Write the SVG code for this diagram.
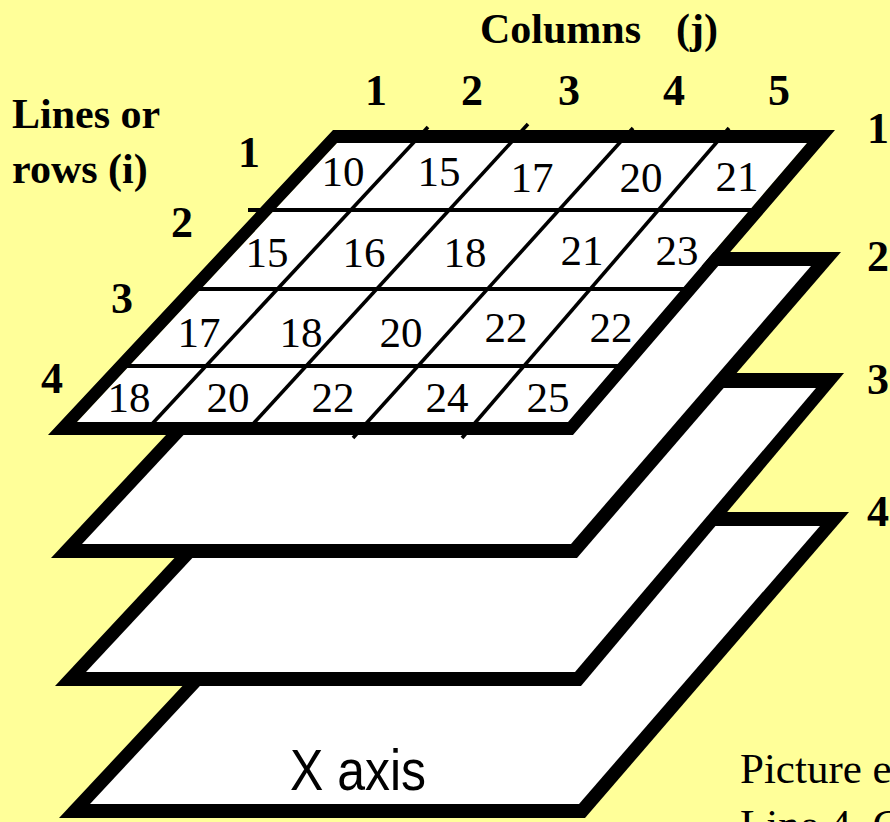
<svg xmlns="http://www.w3.org/2000/svg" width="890" height="822" viewBox="0 0 890 822">
<style>
.bg{fill:#FFFF99}
.outer{fill:#000}
.inner{fill:#fff}
.border{fill:#000;fill-rule:evenodd}
.grid line{stroke:#000;stroke-width:3.6;stroke-linecap:butt}
.hl{stroke-width:4.2 !important}
.num{font-family:"Liberation Serif","Times New Roman",serif;font-size:43px;fill:#000;text-anchor:middle}
.lbl{font-family:"Liberation Serif","Times New Roman",serif;font-weight:bold;font-size:42px;fill:#000}
.dig{font-family:"Liberation Serif","Times New Roman",serif;font-weight:bold;font-size:44px;fill:#000;text-anchor:middle}
.rdig{font-family:"Liberation Serif","Times New Roman",serif;font-weight:bold;font-size:44px;fill:#000}
.axis{font-family:"Liberation Sans",Arial,sans-serif;font-size:58px;fill:#000}
.note{font-family:"Liberation Serif","Times New Roman",serif;font-size:43px;fill:#000}
</style>
<rect class="bg" x="0" y="0" width="890" height="822"/>

<g id="layer4">
  <polygon class="outer" points="345,512 849,512 585,818 59,818"/>
  <polygon class="inner" points="349,526 820,526 579,804 90,804"/>
  <text class="axis" x="290" y="790" textLength="136" lengthAdjust="spacingAndGlyphs">X axis</text>
</g>
<g id="layer3">
  <polygon class="outer" points="347,373 844,373 581,686 55,686"/>
  <polygon class="inner" points="351,388 816,388 575,672 86,672"/>
</g>
<g id="layer2">
  <polygon class="outer" points="337,252 841,252 577,558 51,558"/>
  <polygon class="inner" points="341,266 811,266 571,544 82,544"/>
</g>
<g id="layer1">
  <polygon class="inner" points="337,143 807,143 568,422 77,422"/>
  <g class="grid" id="grid-lines">
    <line class="hl" x1="248" y1="210" x2="758" y2="210"/>
    <line class="hl" x1="192" y1="289" x2="690" y2="289"/>
    <line class="hl" x1="120" y1="366" x2="624" y2="366"/>
    <line x1="428" y1="127" x2="152" y2="424"/>
    <line x1="528" y1="124" x2="253" y2="424"/>
    <line x1="633" y1="128" x2="353" y2="438"/>
    <line x1="729" y1="128" x2="462" y2="438"/>
  </g>
  <path class="border" d="M333,130 L835,130 L573,435 L48,435 Z M337,143 L77,422 L568,422 L807,143 Z"/>
  <g id="cells">
    <text class="num" x="343" y="186">10</text>
    <text class="num" x="439" y="186">15</text>
    <text class="num" x="532" y="192">17</text>
    <text class="num" x="641" y="192">20</text>
    <text class="num" x="737" y="191">21</text>
    <text class="num" x="267" y="267">15</text>
    <text class="num" x="364" y="267">16</text>
    <text class="num" x="465" y="267">18</text>
    <text class="num" x="582" y="265">21</text>
    <text class="num" x="677" y="265">23</text>
    <text class="num" x="199" y="347">17</text>
    <text class="num" x="301" y="347">18</text>
    <text class="num" x="401" y="347">20</text>
    <text class="num" x="506" y="342">22</text>
    <text class="num" x="611" y="342">22</text>
    <text class="num" x="129" y="412">18</text>
    <text class="num" x="228" y="412">20</text>
    <text class="num" x="333" y="412">22</text>
    <text class="num" x="447" y="412">24</text>
    <text class="num" x="548" y="412">25</text>
  </g>
</g>

<g id="labels">
  <text class="lbl" x="480" y="43">Columns<tspan x="676">(j)</tspan></text>
  <text class="lbl" x="12" y="128">Lines or</text>
  <text class="lbl" x="12" y="183">rows (i)</text>
  <text class="dig" x="376" y="105">1</text>
  <text class="dig" x="472" y="105">2</text>
  <text class="dig" x="569" y="105">3</text>
  <text class="dig" x="674" y="105">4</text>
  <text class="dig" x="779" y="105">5</text>
  <text class="dig" x="249" y="167">1</text>
  <text class="dig" x="182" y="237">2</text>
  <text class="dig" x="122" y="313">3</text>
  <text class="dig" x="52" y="393">4</text>
  <text class="rdig" x="867" y="143">1</text>
  <text class="rdig" x="867" y="271">2</text>
  <text class="rdig" x="867" y="394">3</text>
  <text class="rdig" x="867" y="526">4</text>
  <text class="note" x="740" y="783">Picture el</text>
  <text class="note" x="740" y="839">Line 4, C</text>
</g>
</svg>
